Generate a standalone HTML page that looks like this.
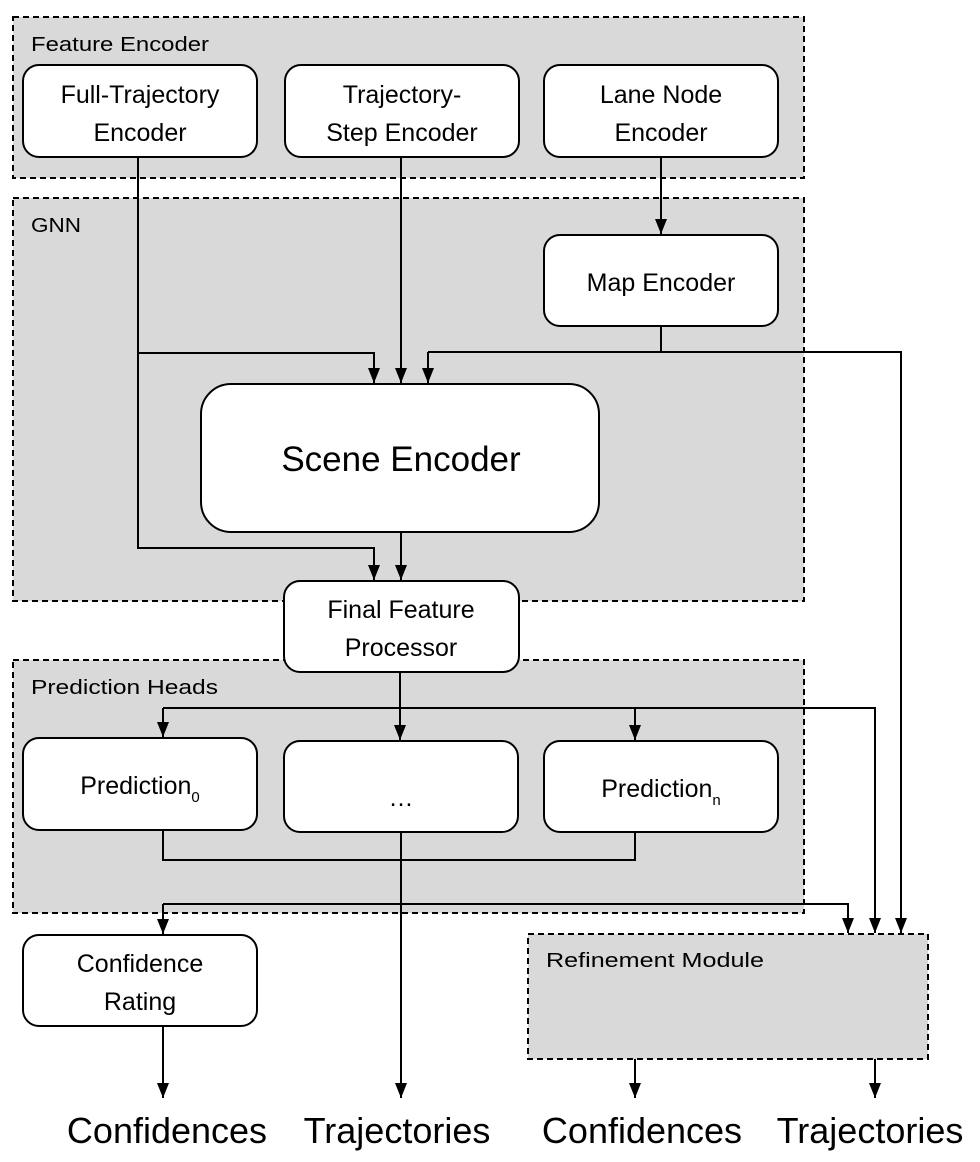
<!DOCTYPE html>
<html><head><meta charset="utf-8"><style>
html,body{margin:0;padding:0;background:#fff;}
svg{display:block;}
text{font-family:"Liberation Sans",sans-serif;fill:#000;}
</style></head><body>
<svg width="980" height="1162" viewBox="0 0 980 1162" xmlns="http://www.w3.org/2000/svg">
<defs>
<marker id="a" markerWidth="16" markerHeight="12" refX="15" refY="6" orient="auto" markerUnits="userSpaceOnUse" viewBox="0 0 16 12">
<path d="M0,0 L15,6 L0,12 Z" fill="#000"/>
</marker>
</defs>
<g stroke="#000" stroke-width="2" stroke-dasharray="6,4" fill="#d9d9d9">
<rect x="13" y="17" width="791" height="161"/>
<rect x="13" y="198" width="791" height="403"/>
<rect x="13" y="660" width="791" height="253"/>
<rect x="528" y="934" width="400" height="125"/>
</g>
<g font-size="20">
<text x="31" y="51" textLength="178" lengthAdjust="spacingAndGlyphs">Feature Encoder</text>
<text x="31" y="232" textLength="50" lengthAdjust="spacingAndGlyphs">GNN</text>
<text x="31" y="694" textLength="187" lengthAdjust="spacingAndGlyphs">Prediction  Heads</text>
<text x="546" y="967" textLength="218" lengthAdjust="spacingAndGlyphs">Refinement Module</text>
</g>
<g fill="none" stroke="#000" stroke-width="2">
<path d="M138,157 V548 H374 V580" marker-end="url(#a)"/>
<path d="M138,353 H374 V383" marker-end="url(#a)"/>
<path d="M401,157 V383" marker-end="url(#a)"/>
<path d="M661,157 V234" marker-end="url(#a)"/>
<path d="M661,326 V352"/>
<path d="M428,352 H901 V933" marker-end="url(#a)"/>
<path d="M428,352 V383" marker-end="url(#a)"/>
<path d="M401,532 V580" marker-end="url(#a)"/>
<path d="M400,672 V740" marker-end="url(#a)"/>
<path d="M163,708 H875 V933" marker-end="url(#a)"/>
<path d="M163,708 V737" marker-end="url(#a)"/>
<path d="M635,708 V740" marker-end="url(#a)"/>
<path d="M163,830 V860 H635 V832"/>
<path d="M401,832 V1098" marker-end="url(#a)"/>
<path d="M163,904 H848 V933" marker-end="url(#a)"/>
<path d="M163,904 V934" marker-end="url(#a)"/>
<path d="M163,1026 V1098" marker-end="url(#a)"/>
<path d="M635,1059 V1098" marker-end="url(#a)"/>
<path d="M875,1059 V1098" marker-end="url(#a)"/>
</g>
<g fill="#fff" stroke="#000" stroke-width="2">
<rect x="23" y="65" width="234" height="92" rx="16"/>
<rect x="285" y="65" width="234" height="92" rx="16"/>
<rect x="544" y="65" width="234" height="92" rx="16"/>
<rect x="544" y="235" width="234" height="91" rx="16"/>
<rect x="201" y="384" width="398" height="148" rx="30"/>
<rect x="284" y="581" width="235" height="91" rx="16"/>
<rect x="23" y="738" width="234" height="92" rx="16"/>
<rect x="284" y="741" width="234" height="91" rx="16"/>
<rect x="544" y="741" width="234" height="91" rx="16"/>
<rect x="23" y="935" width="234" height="91" rx="16"/>
</g>
<g font-size="25" text-anchor="middle">
<text x="140" y="103">Full-Trajectory</text>
<text x="140" y="141">Encoder</text>
<text x="402" y="103">Trajectory-</text>
<text x="402" y="141">Step Encoder</text>
<text x="661" y="103">Lane Node</text>
<text x="661" y="141">Encoder</text>
<text x="661" y="291">Map Encoder</text>
<text x="401" y="618">Final Feature</text>
<text x="401" y="656">Processor</text>
<text x="140" y="794">Prediction<tspan font-size="15" dy="8">0</tspan></text>
<text x="401" y="806">…</text>
<text x="661" y="797">Prediction<tspan font-size="15" dy="8">n</tspan></text>
<text x="140" y="972">Confidence</text>
<text x="140" y="1010">Rating</text>
<text x="401" y="471" font-size="35">Scene Encoder</text>
</g>
<g font-size="36" text-anchor="middle">
<text x="167" y="1143">Confidences</text>
<text x="397" y="1143">Trajectories</text>
<text x="642" y="1143">Confidences</text>
<text x="870" y="1143">Trajectories</text>
</g>
</svg>
</body></html>
